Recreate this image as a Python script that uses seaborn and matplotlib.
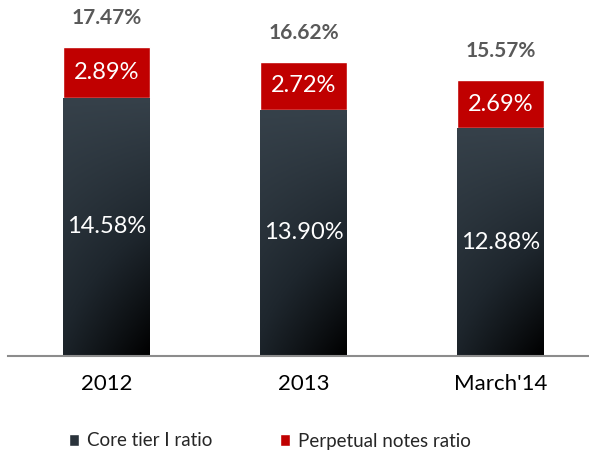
import numpy as np
import pandas as pd
import matplotlib
matplotlib.use('Agg')
import matplotlib.pyplot as plt
import seaborn as sns
from matplotlib.colors import LinearSegmentedColormap
from matplotlib.patches import Patch

periods = ['2012', '2013', "March'14"]
core_tier = [14.58, 13.90, 12.88]
perpetual = [2.89, 2.72, 2.69]
totals = [17.47, 16.62, 15.57]

sns.set_style('white')
plt.rcParams['font.family'] = ['Lato', 'DejaVu Sans']

df = pd.DataFrame({'period': periods, 'core': core_tier,
                   'perp': perpetual, 'total': totals})

fig = plt.figure(figsize=(5.89, 4.5), dpi=100)
ax = fig.add_axes([8 / 589, 94 / 450, 581 / 589, 354 / 450])

red = '#C00000'
slate = '#36414A'
# stacked: full height in red, core part drawn over it
sns.barplot(data=df, x='period', y='total', color=red, width=0.44,
            saturation=1, ax=ax)
sns.barplot(data=df, x='period', y='core', color=slate, width=0.44,
            saturation=1, ax=ax)

# dark bars get a slate -> black gradient, like the original
cmap = LinearSegmentedColormap.from_list('slate', [slate, '#1E262D', '#000000'])
yy, xx = np.mgrid[0:1:200j, 0:1:100j]
grad = yy * (0.55 + 0.45 * xx)
core_patches = ax.patches[len(periods):]
for p in core_patches:
    x0, y0 = p.get_x(), p.get_y()
    w, h = p.get_width(), p.get_height()
    im = ax.imshow(grad, cmap=cmap, vmin=0, vmax=1, aspect='auto',
                   extent=(x0, x0 + w, y0, y0 + h), origin='upper',
                   zorder=p.get_zorder() + 0.1, interpolation='bilinear')
    im.set_clip_path(p)

ax.set_xlim(-0.5, 2.45)
ax.set_ylim(0, 20)

for i in range(len(periods)):
    ax.text(i, core_tier[i] / 2, f'{core_tier[i]:.2f}%', ha='center',
            va='center', color='white', fontsize=17, zorder=5)
    ax.text(i, core_tier[i] + perpetual[i] / 2, f'{perpetual[i]:.2f}%',
            ha='center', va='center', color='white', fontsize=17, zorder=5)
    ax.annotate(f'{totals[i]:.2f}%', (i, totals[i]), xytext=(0, 21),
                textcoords='offset points', ha='center', va='center',
                color='#595959', fontsize=15, fontweight='bold')

ax.set_xlabel('')
ax.set_ylabel('')
ax.set_yticks([])
ax.tick_params(axis='x', length=0, pad=13, labelsize=16, colors='black')
for s in ['top', 'right', 'left']:
    ax.spines[s].set_visible(False)
ax.spines['bottom'].set_color('#8C8C8C')
ax.spines['bottom'].set_linewidth(1.5)

handles = [Patch(facecolor='#2A333B', label='Core tier I ratio'),
           Patch(facecolor=red, label='Perpetual notes ratio')]
fig.legend(handles=handles, loc='center', bbox_to_anchor=(0.458, 1 - 441 / 450),
           ncol=2, frameon=False, fontsize=13.5, handlelength=0.55,
           handleheight=0.55, handletextpad=0.4, columnspacing=3.6)

fig.savefig('out.png', dpi=100)
